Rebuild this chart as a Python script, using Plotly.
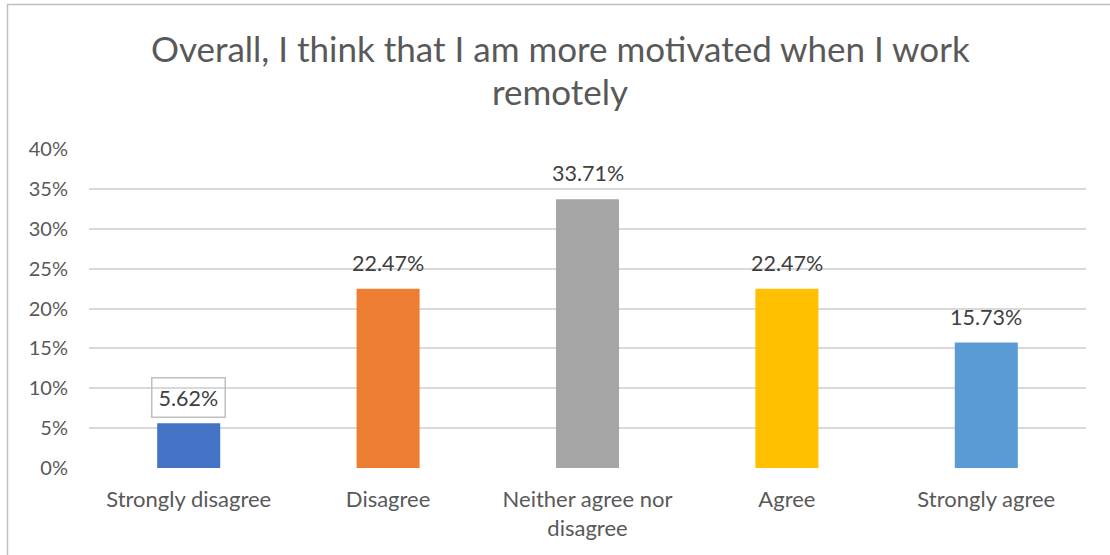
import plotly.graph_objects as go

# Survey responses: share of respondents per answer
categories = ["Strongly disagree", "Disagree", "Neither agree nor<br>disagree", "Agree", "Strongly agree"]
shares = [0.0562, 0.2247, 0.3371, 0.2247, 0.1573]
bar_colors = ["#4472C4", "#ED7D31", "#A5A5A5", "#FFC000", "#5B9BD5"]
y_ticks = [0, 0.05, 0.10, 0.15, 0.20, 0.25, 0.30, 0.35, 0.40]
title_lines = ["Overall, I think that I am more motivated when I work", "remotely"]

FONT = "Lato, Carlito, Calibri, sans-serif"
W, H = 1110, 555
ML, MR, MT, MB = 89, 24, 149, 87
pw, ph = W - ML - MR, H - MT - MB


def py(pixel_y):
    """Convert a pixel row of the page into a paper y coordinate."""
    return (H - MB - pixel_y) / ph


def px(pixel_x):
    """Convert a pixel column of the page into a paper x coordinate."""
    return (pixel_x - ML) / pw


fig = go.Figure(
    go.Bar(
        x=categories,
        y=shares,
        marker=dict(color=bar_colors, line=dict(width=0)),
        hoverinfo="skip",
    )
)

# Value labels above each bar; the first one sits in an outlined box
for i, (cat, val) in enumerate(zip(categories, shares)):
    boxed = i == 0
    fig.add_annotation(
        x=cat,
        y=val,
        text=f"{val * 100:.2f}%",
        showarrow=False,
        yanchor="middle",
        yshift=26,
        font=dict(family=FONT, size=21.5, color="#404040"),
        bordercolor="#BFBFBF" if boxed else "rgba(0,0,0,0)",
        borderwidth=1.5 if boxed else 0,
        borderpad=6,
        bgcolor="rgba(255,255,255,0)",
    )

# Two-line chart title, centred on the whole chart frame
for line, center in zip(title_lines, [48, 91]):
    fig.add_annotation(
        x=px(560),
        xref="paper",
        xanchor="center",
        y=py(center),
        yref="paper",
        yanchor="middle",
        text=line,
        showarrow=False,
        font=dict(family=FONT, size=35, color="#595959"),
    )

# Light outer frame of the chart area
fig.add_shape(
    type="rect",
    xref="paper",
    yref="paper",
    x0=px(7.5),
    x1=px(W + 5),
    y0=py(H + 5),
    y1=py(4.5),
    line=dict(color="#BFBFBF", width=1.5),
    fillcolor="rgba(0,0,0,0)",
    layer="below",
)

fig.update_layout(
    width=W,
    height=H,
    margin=dict(l=ML, r=MR, t=MT, b=MB),
    paper_bgcolor="white",
    plot_bgcolor="white",
    bargap=0.684,
    showlegend=False,
    xaxis=dict(
        showgrid=False,
        showline=False,
        zeroline=False,
        ticks="",
        ticklabelstandoff=16,
        tickfont=dict(family=FONT, size=22, color="#595959"),
    ),
    yaxis=dict(
        range=[0, 0.40],
        tickvals=y_ticks,
        tickformat=".0%",
        showgrid=True,
        gridcolor="#D9D9D9",
        gridwidth=1.5,
        zeroline=False,
        showline=False,
        ticks="",
        ticklabelstandoff=20,
        tickfont=dict(family=FONT, size=20, color="#595959"),
    ),
)

fig.write_html("out.html")
